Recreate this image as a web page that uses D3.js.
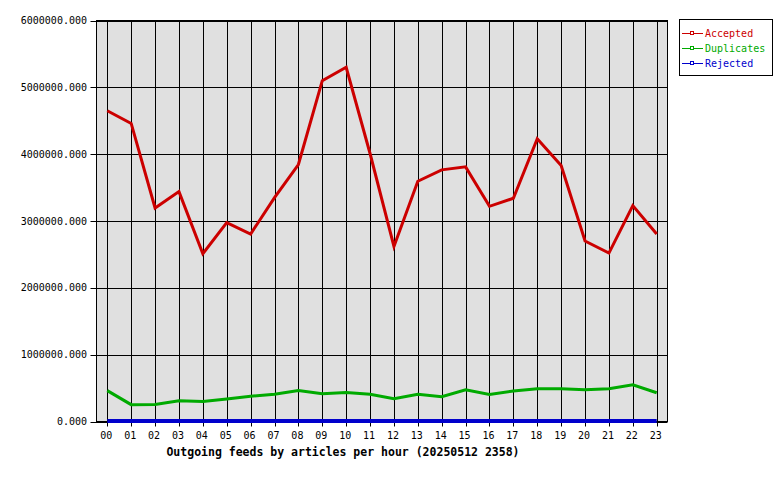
<!DOCTYPE html>
<html>
<head>
<meta charset="utf-8">
<script src="https://cdn.jsdelivr.net/npm/d3@7"></script>
<style>
  html, body { margin: 0; padding: 0; background: #ffffff; }
  svg { display: block; }
</style>
</head>
<body>
<svg id="chart" width="780" height="480"></svg>
<script>
const hours = ["00","01","02","03","04","05","06","07","08","09","10","11","12","13","14","15","16","17","18","19","20","21","22","23"];
const accepted = [4650000,4460000,3195000,3440000,2510000,2975000,2805000,3350000,3845000,5100000,5300000,4010000,2620000,3595000,3765000,3810000,3220000,3340000,4230000,3830000,2700000,2520000,3230000,2805000];
const duplicates = [462000,252000,255000,312000,298000,338000,378000,408000,464000,414000,434000,409000,340000,409000,370000,474000,404000,455000,489000,489000,474000,489000,549000,430000];
const rejected = [9000,9000,9000,9000,9000,9000,9000,9000,9000,9000,9000,9000,9000,9000,9000,9000,9000,9000,9000,9000,9000,9000,9000,9000];
const yTicks = [0,1000000,2000000,3000000,4000000,5000000,6000000];
const seriesNames = ["Accepted","Duplicates","Rejected"];
const seriesColors = ["#cc0000","#00aa00","#0000cc"];
const titleText = "Outgoing feeds by articles per hour (20250512 2358)";

const svg = d3.select("#chart");
const plot = {left: 96.5, right: 667.5, top: 20.5, bottom: 421.5};

const x = d3.scalePoint().domain(hours).range([107.3, 656.7]);
const y = d3.scaleLinear().domain([0, 6000000]).range([plot.bottom, plot.top]);

// background
svg.append("rect")
  .attr("x", plot.left).attr("y", plot.top)
  .attr("width", plot.right - plot.left).attr("height", plot.bottom - plot.top)
  .attr("fill", "#e0e0e0");

// vertical grid
svg.append("g").selectAll("line").data(hours).join("line")
  .attr("x1", d => Math.round(x(d)) + 0.5).attr("x2", d => Math.round(x(d)) + 0.5)
  .attr("y1", plot.top).attr("y2", plot.bottom + 5)
  .attr("stroke", "#000").attr("stroke-width", 1);

// horizontal grid
svg.append("g").selectAll("line").data(yTicks).join("line")
  .attr("x1", plot.left - 6).attr("x2", plot.right)
  .attr("y1", d => Math.round(y(d)) + 0.5).attr("y2", d => Math.round(y(d)) + 0.5)
  .attr("stroke", "#000").attr("stroke-width", 1);

// border
svg.append("rect")
  .attr("x", plot.left).attr("y", plot.top)
  .attr("width", plot.right - plot.left).attr("height", plot.bottom - plot.top)
  .attr("fill", "none").attr("stroke", "#000").attr("stroke-width", 1);

// y labels
svg.append("g").selectAll("text").data(yTicks).join("text")
  .attr("x", 87).attr("y", d => y(d) + 3.5)
  .attr("text-anchor", "end")
  .attr("font-family", "DejaVu Sans Mono, monospace")
  .attr("font-size", "10px").attr("fill", "#000")
  .text(d => d3.format(".3f")(d));

// x labels
svg.append("g").selectAll("text").data(hours).join("text")
  .attr("x", d => x(d) - 1).attr("y", 439)
  .attr("text-anchor", "middle")
  .attr("font-family", "DejaVu Sans Mono, monospace")
  .attr("font-size", "10px").attr("fill", "#000")
  .text(d => d);

// title
svg.append("text")
  .attr("x", 343).attr("y", 456)
  .attr("text-anchor", "middle")
  .attr("font-family", "DejaVu Sans Mono, monospace")
  .attr("font-weight", "bold")
  .attr("font-size", "11.5px").attr("fill", "#000")
  .text(titleText);

// lines
const line = d3.line().x((d, i) => x(hours[i])).y(d => y(d));
const allSeries = [accepted, duplicates, rejected];
[2,1,0].forEach(k => {
  svg.append("path")
    .datum(allSeries[k])
    .attr("d", line)
    .attr("fill", "none")
    .attr("stroke", seriesColors[k])
    .attr("stroke-width", k === 2 ? 4 : 3)
    .attr("stroke-linejoin", "miter");
});

// legend
const lg = svg.append("g");
lg.append("rect").attr("x", 679.5).attr("y", 19.5).attr("width", 93).attr("height", 56)
  .attr("fill", "#fff").attr("stroke", "#000");
seriesNames.forEach((name, i) => {
  const yy = 33 + i * 15;
  lg.append("line").attr("x1", 682).attr("x2", 703).attr("y1", yy + 0.5).attr("y2", yy + 0.5)
    .attr("stroke", seriesColors[i]).attr("stroke-width", 1);
  lg.append("rect").attr("x", 690.5).attr("y", yy - 1.5).attr("width", 3).attr("height", 3)
    .attr("fill", "#fff").attr("stroke", seriesColors[i]).attr("stroke-width", 1);
  lg.append("text").attr("x", 705).attr("y", yy + 4)
    .attr("font-family", "DejaVu Sans Mono, monospace")
    .attr("font-size", "10px").attr("fill", seriesColors[i])
    .text(name);
});
</script>
</body>
</html>
